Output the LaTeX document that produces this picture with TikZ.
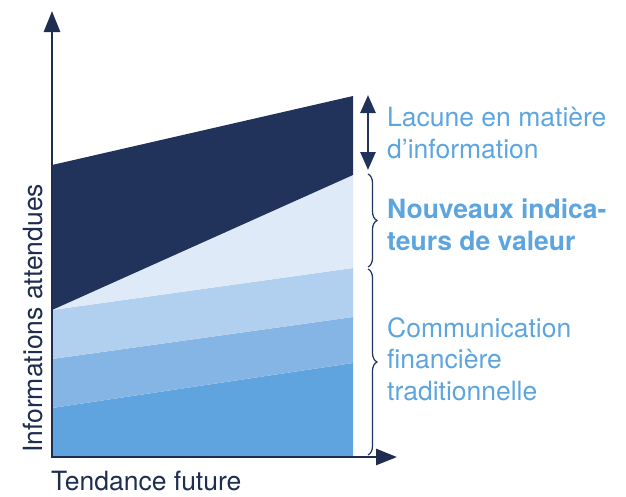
\documentclass[tikz,border=0pt]{standalone}
\usepackage{fontspec}
\setmainfont{TeX Gyre Heros}
\usetikzlibrary{arrows.meta,decorations.pathreplacing}

\definecolor{navy}{HTML}{21335A}
\definecolor{axisnavy}{HTML}{1F2E50}
\definecolor{labelblue}{HTML}{5DA5DF}
\definecolor{layerA}{HTML}{5FA4DE}
\definecolor{layerB}{HTML}{85B5E5}
\definecolor{layerC}{HTML}{B1CFEE}
\definecolor{layerD}{HTML}{DEEAF8}

\tikzset{
  axisline/.style={draw=axisnavy, line width=2.6pt,
    -{Triangle[length=21pt,width=16pt]}},
  gaparrow/.style={draw=navy, line width=2.6pt,
    {Triangle[length=18pt,width=15pt]}-{Triangle[length=18pt,width=15pt]}},
  bracket/.style={draw=navy, line width=1.2pt, decorate,
    decoration={brace, amplitude=9pt}},
  axislabel/.style={text=axisnavy, inner sep=0pt,
    font=\fontsize{26.5}{30}\selectfont},
  sidelabel/.style={text=labelblue, inner sep=0pt, align=left,
    font=\fontsize{26.5}{31.5}\selectfont}
}

\begin{document}
\begin{tikzpicture}[x=1pt, y=-1pt]
  \useasboundingbox (0,0) rectangle (626,496);

  % corners of the stacked bands
  \coordinate (bl) at (52,457);
  \coordinate (br) at (353,457);
  \coordinate (a1l) at (52,408);  \coordinate (a1r) at (353,363);
  \coordinate (a2l) at (52,359);  \coordinate (a2r) at (353,317);
  \coordinate (a3l) at (52,310);  \coordinate (a3r) at (353,268);
  \coordinate (a4r) at (353,175);
  \coordinate (a5l) at (52,165);  \coordinate (a5r) at (353,96);

  % bands, bottom to top
  \fill[layerA] (bl) -- (br) -- (a1r) -- (a1l) -- cycle;
  \fill[layerB] (a1l) -- (a1r) -- (a2r) -- (a2l) -- cycle;
  \fill[layerC] (a2l) -- (a2r) -- (a3r) -- (a3l) -- cycle;
  \fill[layerD] (a3l) -- (a3r) -- (a4r) -- cycle;
  \fill[navy] (a3l) -- (a4r) -- (a5r) -- (a5l) -- cycle;

  % axes
  \coordinate (origin) at (52,457);
  \coordinate (ytip) at (52,11);
  \coordinate (xtip) at (397,457);
  \coordinate (xstart) at (50.7,457);
  \draw[axisline] (origin) -- (ytip);
  \draw[axisline] (xstart) -- (xtip);

  % axis labels
  \node[axislabel, rotate=90, anchor=base west] (ylab) at (42,453)
    {Informations attendues};
  \node[axislabel, anchor=base west] (xlab) at (51,490)
    {Tendance future};

  % information gap arrow
  \coordinate (gaptop) at (368,95);
  \coordinate (gapbot) at (368,170);
  \draw[gaparrow] (gaptop) -- (gapbot);

  % braces
  \coordinate (b1top) at (368,174);
  \coordinate (b1bot) at (368,267);
  \coordinate (b2top) at (368,269);
  \coordinate (b2bot) at (368,455);
  \draw[bracket] (b1top) -- (b1bot);
  \draw[bracket] (b2top) -- (b2bot);

  % side labels (base anchor sits on the last line)
  \node[sidelabel, anchor=base west] (gap) at (387,158)
    {Lacune en matière\\d’information};
  \node[sidelabel, anchor=base west, font=\fontsize{26.5}{31.5}\selectfont\bfseries] (newind) at (387,250)
    {Nouveaux indica-\\teurs de valeur};
  \node[sidelabel, anchor=base west] (trad) at (387,400)
    {Communication\\financière\\traditionnelle};
\end{tikzpicture}
\end{document}
